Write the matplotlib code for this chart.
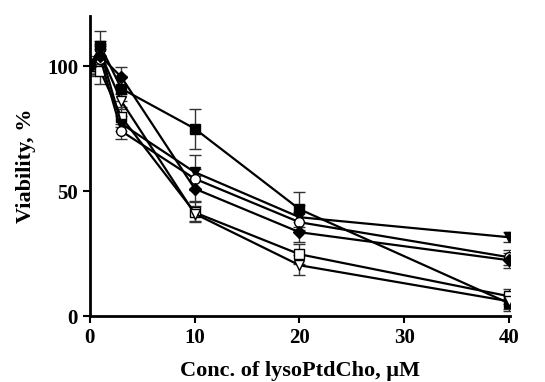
import matplotlib
matplotlib.use("Agg")
import matplotlib.pyplot as plt

conc = [0, 1, 3, 10, 20, 40]

# viability (%) per series
filled_square = [100, 108, 91, 75, 42.8, 5.2]
open_square = [100, 98, 79.6, 41.5, 24.8, 8]
open_tri = [100, 105, 86, 41, 20.4, 6]
filled_tri = [100, 106, 77, 57.6, 39.6, 31.6]
open_circle = [100, 103, 74, 55, 37.6, 23.6]
filled_diamond = [100, 104, 95.6, 51, 33.6, 22.4]

err_sq = [4, 6, 5, 8, 7, 3]
err_osq = [3, 5, 4, 4, 4, 3]
err_otri = [3, 4, 3, 3, 4, 3]
err_ftri = [3, 4, 3, 7, 5, 2]
err_oc = [3, 4, 3, 4, 4, 3]
err_fd = [3, 4, 4, 5, 4, 3]

plt.rcParams['font.family'] = ['Liberation Serif', 'DejaVu Serif']

fig = plt.figure(figsize=(5.45, 3.82), dpi=100)
ax = fig.add_axes([0.165, 0.172, 0.771, 0.786])

series = [
    (filled_square, err_sq, 's', 'black'),
    (open_square, err_osq, 's', 'white'),
    (open_tri, err_otri, 'v', 'white'),
    (filled_tri, err_ftri, 'v', 'black'),
    (open_circle, err_oc, 'o', 'white'),
    (filled_diamond, err_fd, 'D', 'black'),
]
for vals, err, mk, fc in series:
    ax.errorbar(conc, vals, yerr=err, color='black', lw=1.6, marker=mk,
                markersize=7 if mk != 'D' else 6, markerfacecolor=fc,
                markeredgecolor='black', markeredgewidth=1,
                ecolor='#333333', elinewidth=1, capsize=4, capthick=1)

ax.set_xlim(0, 40.1)
ax.set_ylim(0, 120)
ax.set_xticks([0, 10, 20, 30, 40])
ax.set_yticks([0, 50, 100])
for s in ['top', 'right']:
    ax.spines[s].set_visible(False)
for s in ['left', 'bottom']:
    ax.spines[s].set_linewidth(2)
ax.tick_params(direction='out', length=5, width=1.5, labelsize=15)
for lab in ax.get_xticklabels() + ax.get_yticklabels():
    lab.set_fontweight('bold')
ax.set_xlabel('Conc. of lysoPtdCho, \u03bcM', fontsize=16, fontweight='bold', labelpad=9)
ax.set_ylabel('Viability, %', fontsize=16, fontweight='bold', labelpad=8)

fig.savefig('out.png', dpi=100)
